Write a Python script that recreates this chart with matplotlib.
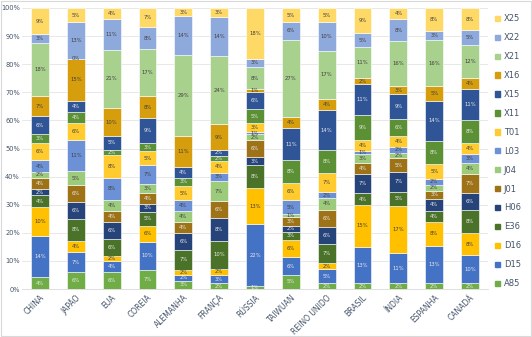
import matplotlib.pyplot as plt
import matplotlib.patches as mpatches
import numpy as np

countries = ['CHINA', 'JAPÃO', 'EUA', 'COREIA', 'ALEMANHA', 'FRANÇA', 'RÚSSIA',
             'TAIWUAN', 'REINO UNIDO', 'BRASIL', 'ÍNDIA', 'ESPANHA', 'CANADÁ']

series = ['A85', 'D15', 'D16', 'E36', 'H06', 'J01', 'J04', 'L03',
          'T01', 'X11', 'X15', 'X16', 'X21', 'X22', 'X25']

# percentuais por pais (ordem de countries)
A85 = [4, 6, 6, 7, 3, 2, 1, 5, 2, 2, 2, 2, 2]
D15 = [14, 7, 4, 10, 2, 3, 22, 6, 5, 13, 11, 13, 10]
D16 = [10, 4, 2, 6, 2, 2, 13, 6, 2, 15, 17, 8, 8]
E36 = [4, 8, 6, 5, 7, 10, 8, 3, 7, 4, 5, 4, 8]
H06 = [2, 6, 6, 3, 6, 8, 3, 2, 6, 7, 7, 4, 6]
J01 = [4, 6, 4, 4, 4, 6, 6, 3, 6, 4, 5, 3, 7]
J04 = [2, 5, 4, 3, 4, 7, 2, 1, 4, 3, 2, 2, 4]
L03 = [4, 11, 8, 7, 4, 3, 1, 5, 2, 1, 2, 2, 3]
T01 = [6, 6, 8, 5, 5, 4, 3, 6, 7, 4, 4, 5, 4]
X11 = [3, 4, 2, 3, 3, 2, 5, 8, 8, 9, 6, 8, 8]
X15 = [6, 4, 5, 9, 4, 2, 6, 11, 14, 11, 9, 14, 11]
X16 = [7, 15, 10, 8, 11, 9, 1, 4, 4, 2, 3, 5, 4]
X21 = [18, 0, 21, 17, 29, 24, 8, 27, 17, 11, 16, 16, 12]
X22 = [3, 13, 11, 8, 14, 14, 3, 6, 10, 5, 8, 3, 5]
X25 = [9, 5, 4, 7, 3, 3, 18, 5, 5, 9, 4, 8, 8]

values = [A85, D15, D16, E36, H06, J01, J04, L03, T01, X11, X15, X16, X21, X22, X25]

colors = ['#70AD47', '#4472C4', '#FFC000', '#4A7329', '#26447A', '#9E7318',
          '#9DCB7C', '#6C91D6', '#FFCB2E', '#5B9035', '#2F5597', '#D69E0C',
          '#A9D18E', '#8EA9DB', '#FFD966']
dark = ['#4A7329', '#26447A', '#9E7318', '#2F5597', '#5B9035', '#4472C4', '#70AD47']

fig = plt.figure(figsize=(5.32, 3.37), dpi=100)
ax = fig.add_axes([22 / 532, 48 / 337, 466 / 532, 281 / 337])

data = np.array(values, dtype=float)
totals = data.sum(axis=0)
heights = data / totals
x = np.arange(len(countries))
bottom = np.zeros(len(countries))

for name, h, raw, c in zip(series, heights, data, colors):
    ax.bar(x, h, 0.5, bottom=bottom, color=c, edgecolor='white', linewidth=0.4,
           label=name, zorder=2)
    tc = '#E8E8E8' if c in dark else '#404040'
    for xi, b, hi, r in zip(x, bottom, h, raw):
        ax.text(xi, b + hi / 2, f'{int(r)}%', ha='center', va='center',
                fontsize=3.8, color=tc, zorder=3)
    bottom += h

ax.set_xlim(-0.5, len(countries) - 0.5)
ax.set_ylim(0, 1)
ax.set_yticks(np.arange(0, 1.01, 0.1))
ax.set_yticklabels([f'{int(round(t * 100))}%' for t in np.arange(0, 1.01, 0.1)],
                   fontsize=4.8, color='#44546A')
ax.set_xticks(x)
ax.set_xticklabels(countries, rotation=45, ha='right', rotation_mode='anchor',
                   fontsize=5.5, color='#44546A')
ax.tick_params(axis='x', length=0, pad=3)
ax.tick_params(axis='y', length=0, pad=1.5)
ax.grid(axis='y', color='#E4E4E4', linewidth=0.6, zorder=0)
for s in ['top', 'right', 'left']:
    ax.spines[s].set_visible(False)
ax.spines['bottom'].set_color('#D9D9D9')
ax.spines['bottom'].set_linewidth(0.6)

handles = [mpatches.Patch(color=c, label=n) for n, c in zip(series, colors)][::-1]
fig.legend(handles=handles, loc='upper left', bbox_to_anchor=(492 / 532, 1 - 11 / 337),
           frameon=False, fontsize=6, labelcolor='#44546A', handlelength=0.6,
           handleheight=0.6, handletextpad=0.4, labelspacing=1.19, borderaxespad=0)

fig.patches.append(mpatches.Rectangle((0.002, 0.004), 0.996, 0.992,
                                      transform=fig.transFigure, fill=False,
                                      edgecolor='#D9D9D9', linewidth=0.8))

plt.savefig('out.png', dpi=100)
